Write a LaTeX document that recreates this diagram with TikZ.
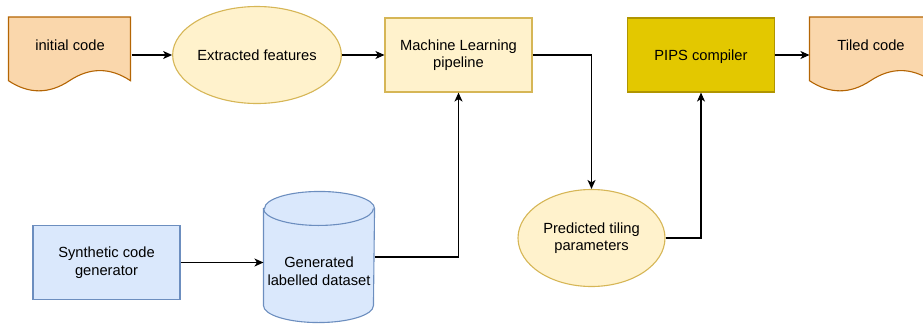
\documentclass[tikz,border=0pt]{standalone}
\usepackage{fontspec}
\setmainfont{Liberation Sans}
\usetikzlibrary{arrows.meta, shapes.geometric}

\definecolor{docfill}{HTML}{FAD7AC}
\definecolor{docline}{HTML}{B46504}
\definecolor{notefill}{HTML}{FFF2CC}
\definecolor{noteline}{HTML}{D6B656}
\definecolor{bluefill}{HTML}{DAE8FC}
\definecolor{blueline}{HTML}{6C8EBF}
\definecolor{goldfill}{HTML}{E3C800}
\definecolor{goldline}{HTML}{B09500}

% wavy document outline around an (empty) 122x75 node
\newcommand{\docshape}[1]{%
    \begin{scope}[shift={(#1.north west)}]
        \filldraw[fill=docfill, draw=docline] (0,0) -- (122,0) -- (122,63.75)
            .. controls (101.67,50.25) and (81.33,50.25) .. (61,63.75)
            .. controls (40.67,77.25) and (20.33,77.25) .. (0,63.75) -- cycle;
    \end{scope}}

% database cylinder around an (empty) 110x130 node
\newcommand{\dbshape}[1]{%
    \filldraw[fill=bluefill, draw=blueline] ([yshift=-17pt]#1.north west) -- ([yshift=17pt]#1.south west)
        arc[start angle=180, end angle=360, x radius=55pt, y radius=17pt]
        -- ([yshift=-17pt]#1.north east)
        arc[start angle=0, end angle=180, x radius=55pt, y radius=17pt] -- cycle;
    \draw[blueline] ([yshift=-17pt]#1.north west)
        arc[start angle=180, end angle=360, x radius=55pt, y radius=17pt];}

\begin{document}
\begin{tikzpicture}[x=1pt, y=-1pt, line width=1.1pt,
        font=\fontsize{14.7}{17.5}\selectfont,
        arr/.style={-{Stealth[length=9pt, width=8pt, inset=2.5pt]}},
        holder/.style={rectangle, inner sep=0pt},
        box/.style={rectangle, draw, minimum width=147pt, minimum height=74pt, align=center, inner sep=0pt},
        oval/.style={ellipse, draw=noteline, fill=notefill, minimum width=147pt, minimum height=97pt, align=center, inner sep=0pt}]
        \useasboundingbox (0,0) rectangle (923,325);

        % documents
        \node[holder, minimum width=122pt, minimum height=75pt] (init) at (70,55) {};
        \docshape{init}
        \node (initlbl) at (70,45) {initial code};

        \node[holder, minimum width=122pt, minimum height=75pt] (tiled) at (871,55) {};
        \docshape{tiled}
        \node (tiledlbl) at (871,45) {Tiled code};

        % processing steps
        \node[oval] (feat) at (257,55) {Extracted features};
        \node[box, draw=noteline, fill=notefill] (ml) at (458.5,55) {Machine Learning\\pipeline};
        \node[box, draw=goldline, fill=goldfill, text depth=0pt] (pips) at (701,55) {PIPS compiler};
        \node[oval] (pred) at (591.5,238) {Predicted tiling\\parameters};
        \node[box, draw=blueline, fill=bluefill] (synth) at (106.5,262.5) {Synthetic code\\generator};

        % dataset
        \node[holder, minimum width=110pt, minimum height=130pt] (data) at (319,257) {};
        \dbshape{data}
        \node[align=center] (datalbl) at (319,271) {Generated\\labelled dataset};

        \draw[arr] (init.east) -- (feat.west);
        \draw[arr] (feat.east) -- (ml.west);
        \draw[arr] (ml.east) -| (pred.north);
        \draw[arr] (pred.east) -| (pips.south);
        \draw[arr] (pips.east) -- (tiled.west);
        \draw[arr] (synth.east) -- (synth.east -| data.west);
        \draw[arr] (data.east) -| (ml.south);
    \end{tikzpicture}
\end{document}
